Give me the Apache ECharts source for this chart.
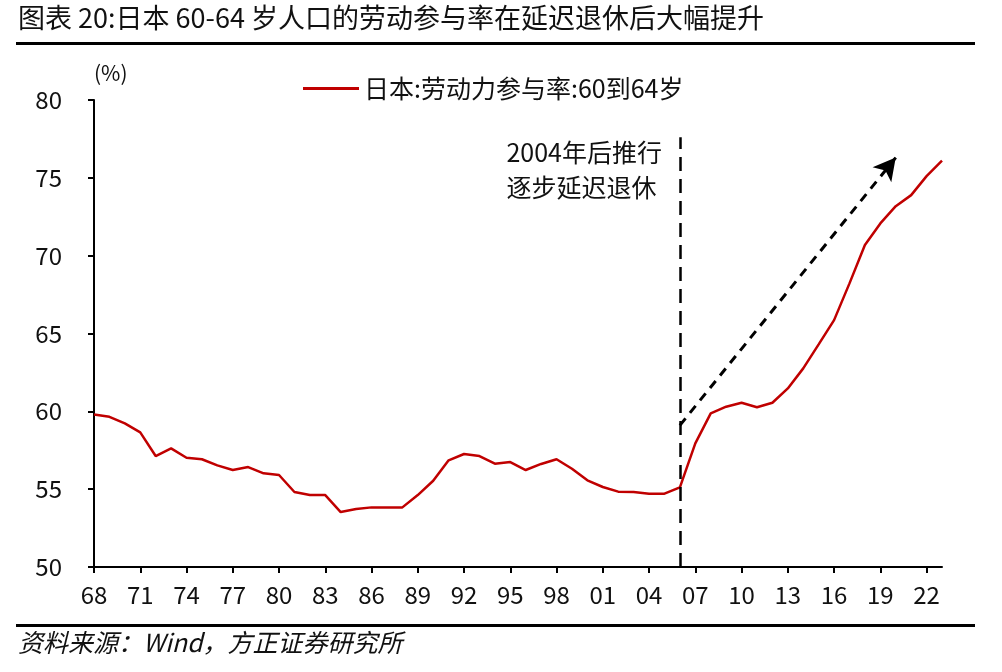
<!DOCTYPE html>
<html><head><meta charset="utf-8">
<script src="https://cdn.jsdelivr.net/npm/echarts@6/dist/echarts.min.js"></script>
<style>html,body{margin:0;padding:0;background:#fff}#c{width:1002px;height:672px}</style>
</head><body><div id="c"></div>
<script>
const years = [];
for (let y = 1968; y <= 2023; y++) years.push(String(y));
const participation = [
  59.8, 59.65, 59.23, 58.65, 57.13, 57.62, 57.02, 56.92, 56.53, 56.23,
  56.42, 56.02, 55.91, 54.82, 54.62, 54.62, 53.53, 53.72, 53.83, 53.83,
  53.83, 54.62, 55.54, 56.85, 57.26, 57.13, 56.64, 56.74, 56.23, 56.62,
  56.92, 56.31, 55.57, 55.14, 54.84, 54.82, 54.71, 54.71, 55.12, 57.94,
  59.87, 60.30, 60.55, 60.26, 60.55, 61.47, 62.76, 64.30, 65.86, 68.22,
  70.68, 72.07, 73.18, 73.89, 75.11, 76.10
];
const seriesName = '日本:劳动力参与率:60到64岁';
const titleText = '图表 20:日本 60-64 岁人口的劳动参与率在延迟退休后大幅提升';
const sourceText = '资料来源：Wind，方正证券研究所';
const noteLines = ['2004年后推行', '逐步延迟退休'];
const policyYear = '2006';
const policyLineTop = 77.6;
const arrowStart = ['2006', 59.1];
const arrowEnd = ['2020', 76.3];

const FONT = '"Noto Sans CJK SC", "Noto Sans", sans-serif';
const chart = echarts.init(document.getElementById('c'));
chart.setOption({
  animation: false,
  textStyle: { fontFamily: FONT },
  grid: { left: 94, right: 60, top: 100, bottom: 105 },
  legend: {
    data: [seriesName], top: 71, left: 298,
    itemWidth: 56, itemHeight: 3, itemGap: 10,
    icon: 'rect',
    textStyle: { fontSize: 25, color: '#111', fontFamily: FONT }
  },
  xAxis: {
    type: 'category', data: years, boundaryGap: false,
    axisLine: { lineStyle: { color: '#000', width: 2 } },
    axisTick: { interval: 2, length: 6, lineStyle: { color: '#000', width: 2 } },
    axisLabel: { interval: 2, fontSize: 24, color: '#111', margin: 16,
      formatter: v => v.slice(2) }
  },
  yAxis: {
    type: 'value', min: 50, max: 80, interval: 5,
    name: '(%)', nameLocation: 'end', nameGap: 16,
    nameTextStyle: { fontSize: 21, color: '#111', align: 'left', padding: [0, 0, 0, 0] },
    splitLine: { show: false },
    axisLine: { show: true, lineStyle: { color: '#000', width: 2 } },
    axisTick: { show: true, length: 6, lineStyle: { color: '#000', width: 2 } },
    axisLabel: { fontSize: 24, color: '#111', margin: 32 }
  },
  series: [{
    name: seriesName, type: 'line', data: participation,
    symbol: 'none', lineStyle: { color: '#c00000', width: 2.5 },
    itemStyle: { color: '#c00000' },
    markLine: {
      silent: true, animation: false,
      label: { show: false },
      data: [
        [{ coord: [policyYear, 50], symbol: 'none' },
         { coord: [policyYear, policyLineTop], symbol: 'none',
           lineStyle: { type: [14, 8], color: '#000', width: 2.5 } }],
        [{ coord: arrowStart, symbol: 'none' },
         { coord: arrowEnd, symbol: 'arrow', symbolSize: [18, 22],
           lineStyle: { type: [9, 7], color: '#000', width: 3 } }]
      ]
    }
  }],
  graphic: [
    { type: 'text', left: 18, top: 4,
      style: { text: titleText, fontSize: 27, fill: '#111', fontFamily: FONT } },
    { type: 'rect', shape: { x: 16, y: 42, width: 959, height: 3 }, style: { fill: '#000' } },
    { type: 'rect', shape: { x: 16, y: 624, width: 959, height: 3 }, style: { fill: '#000' } },
    { type: 'text', left: 18, top: 630,
      style: { text: sourceText, fontSize: 25, fill: '#111', fontStyle: 'italic', fontFamily: FONT } },
    { type: 'text', right: 340, top: 135,
      style: { text: noteLines.join('\n'), fontSize: 25, lineHeight: 35, fill: '#111', align: 'right', fontFamily: FONT } }
  ]
});
</script></body></html>
